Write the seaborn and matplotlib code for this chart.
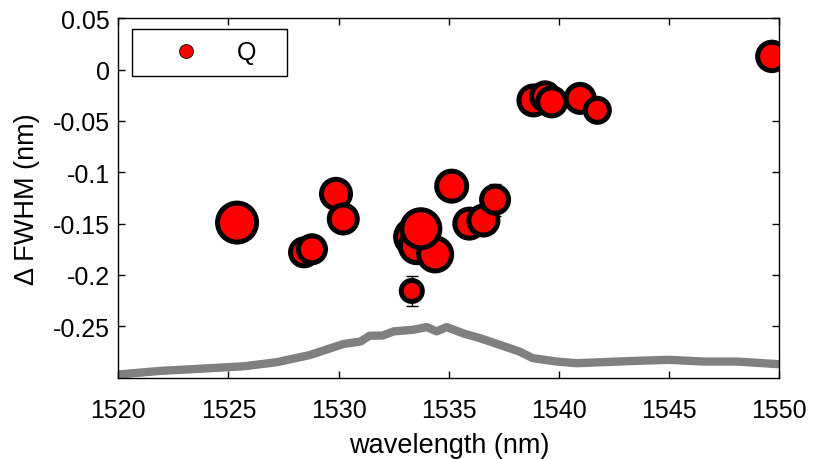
import numpy as np
import pandas as pd
import matplotlib
matplotlib.use("Agg")
import matplotlib.pyplot as plt
import seaborn as sns

# --- resonance data: wavelength (nm), change of FWHM (nm), error, marker radius (px) ---
wavelength = [1525.39, 1528.43, 1528.79, 1529.88, 1530.21, 1533.32,
              1533.38, 1533.55, 1534.38, 1533.73, 1535.13, 1535.93,
              1536.57, 1537.10, 1538.84, 1539.37, 1539.67, 1540.96,
              1541.74, 1549.66]
d_fwhm = [-0.149, -0.178, -0.175, -0.121, -0.1455, -0.2156,
          -0.163, -0.172, -0.180, -0.155, -0.1135, -0.150,
          -0.147, -0.1267, -0.030, -0.026, -0.0314, -0.028,
          -0.0396, 0.0129]
d_err = [0.004, 0.004, 0.004, 0.004, 0.004, 0.015,
         0.004, 0.004, 0.004, 0.004, 0.004, 0.004,
         0.006, 0.0156, 0.003, 0.003, 0.003, 0.003,
         0.003, 0.003]
q_radius = [22, 16, 16, 17, 16.5, 13,
            20, 19, 19, 21.5, 17.5, 17,
            17, 16, 17, 16, 16.5, 16.5,
            14.5, 16.7]

# --- transmission background (gray trace) ---
bg_wl = [1520.0, 1521.9, 1524.2, 1525.7, 1527.2, 1528.7, 1530.2, 1531.0,
         1531.4, 1532.0, 1532.5, 1533.4, 1534.0, 1534.45, 1534.9, 1535.7,
         1536.4, 1537.3, 1538.2, 1538.8, 1539.9, 1540.8, 1543.5, 1545.0,
         1546.6, 1548.1, 1549.7, 1550.0]
bg_val = [-0.2970, -0.2935, -0.2908, -0.289, -0.285, -0.278, -0.2674, -0.2648,
          -0.2593, -0.259, -0.255, -0.2534, -0.2508, -0.255, -0.2508, -0.2573,
          -0.2615, -0.268, -0.2746, -0.281, -0.2844, -0.286, -0.2837, -0.2827,
          -0.2844, -0.2844, -0.2866, -0.287]

df = pd.DataFrame({"wl": wavelength, "dfwhm": d_fwhm, "err": d_err, "r": q_radius})
bg = pd.DataFrame({"wl": bg_wl, "val": bg_val})

sns.set_style("ticks")
plt.rcParams["font.family"] = ["Liberation Sans", "DejaVu Sans"]
plt.rcParams["axes.unicode_minus"] = False
for k in ["text.color", "axes.labelcolor", "xtick.color", "ytick.color", "axes.edgecolor"]:
    plt.rcParams[k] = "black"

fig = plt.figure(figsize=(8.13, 4.6), dpi=100)
ax = fig.add_axes([0.1455, 0.177, 0.8131, 0.781])

sns.lineplot(data=bg, x="wl", y="val", ax=ax, color="#808080", lw=6, zorder=1)

ax.errorbar(df["wl"], df["dfwhm"], yerr=df["err"], fmt="none", ecolor="black",
            elinewidth=1, capsize=4, zorder=2)

edge_px = 5.0
px2pt = 72 / 100
sizes = ((2 * (df["r"] - edge_px / 2)) * px2pt) ** 2
sns.scatterplot(data=df, x="wl", y="dfwhm", ax=ax, s=sizes, color="red",
                edgecolor="black", linewidth=edge_px * px2pt, zorder=3, legend=False)

ax.set_xlim(1520, 1550)
ax.set_ylim(-0.3, 0.05)
ax.set_xticks([1520, 1525, 1530, 1535, 1540, 1545, 1550])
ax.set_yticks([-0.25, -0.2, -0.15, -0.1, -0.05, 0, 0.05])
ax.set_yticklabels(["-0.25", "-0.2", "-0.15", "-0.1", "-0.05", "0", "0.05"])
ax.tick_params(direction="in", length=5, width=1, top=True, right=True, labelsize=18)
ax.tick_params(axis="x", pad=14.5)
ax.tick_params(axis="y", pad=6)
for s in ax.spines.values():
    s.set_linewidth(1)
    s.set_visible(True)

ax.set_xlabel("wavelength (nm)", fontsize=19.5, labelpad=7.5)
ax.set_ylabel("\u0394 FWHM (nm)", fontsize=19.5, labelpad=9)

handle = plt.Line2D([], [], color="red", marker="o", linestyle="None",
                    markersize=10, markeredgecolor="black", markeredgewidth=0.6)
leg = ax.legend([handle], ["Q"], loc="upper left",
                bbox_to_anchor=(0.021, 0.845, 0.234, 0.125), mode="expand",
                borderaxespad=0, fontsize=18, handlelength=3.4, handletextpad=0.35,
                borderpad=0.45, fancybox=False, framealpha=1, edgecolor="black")
leg.get_frame().set_linewidth(1)

fig.savefig("out.png", dpi=100)
